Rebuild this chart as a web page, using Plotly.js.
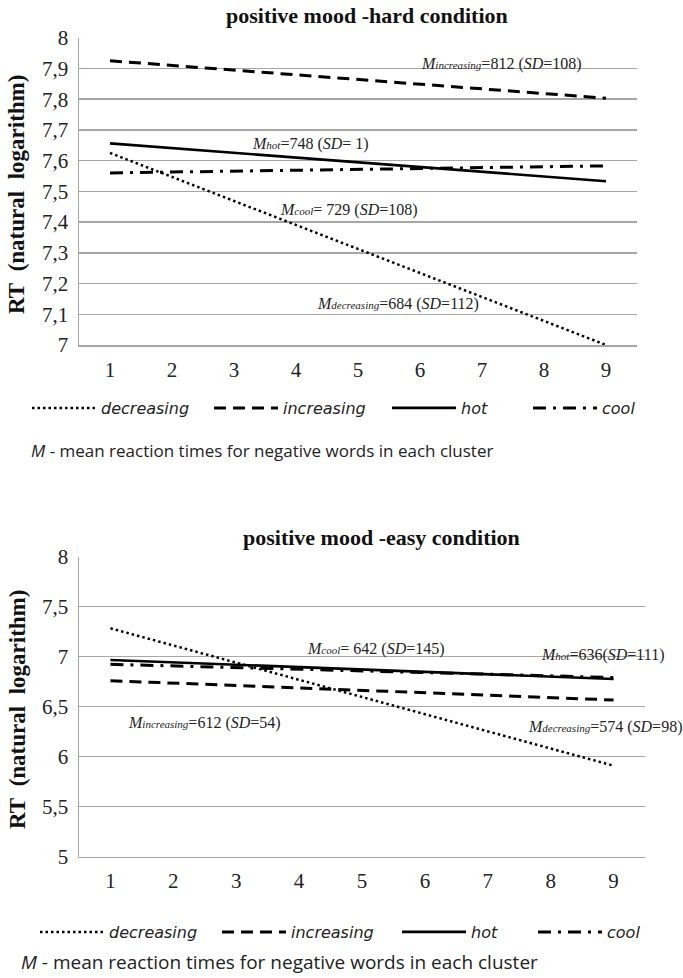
<!DOCTYPE html>
<html>
<head>
<meta charset="utf-8">
<script src="https://cdn.plot.ly/plotly-3.0.1.min.js"></script>
<style>html,body{margin:0;padding:0;background:#fff;}#chart{width:683px;height:978px;}</style>
</head>
<body>
<div id="chart"></div>
<script>
// ---- data ----
var clusterX = [1, 9];
var seriesNames = ["decreasing", "increasing", "hot", "cool"];
// positive mood - hard condition (trend line ends, ln RT)
var hardDecreasing = [7.625, 7.0];
var hardIncreasing = [7.925, 7.803];
var hardHot = [7.656, 7.533];
var hardCool = [7.56, 7.583];
// positive mood - easy condition
var easyDecreasing = [7.284, 5.91];
var easyIncreasing = [6.76, 6.567];
var easyHot = [6.967, 6.777];
var easyCool = [6.924, 6.792];
var xTicks = [1, 2, 3, 4, 5, 6, 7, 8, 9];
var hardYTicks = [7, 7.1, 7.2, 7.3, 7.4, 7.5, 7.6, 7.7, 7.8, 7.9, 8];
var easyYTicks = [5, 5.5, 6, 6.5, 7, 7.5, 8];
// mean labels
var hardLabels = [
  {name: "increasing", m: 812, sd: "108", x: 7.31, y: 7.914, sep: "=", sp: " "},
  {name: "hot", m: 748, sd: " 1", x: 4.23, y: 7.654, sep: "=", sp: " "},
  {name: "cool", m: 729, sd: "108", x: 4.85, y: 7.439, sep: "= ", sp: " "},
  {name: "decreasing", m: 684, sd: "112", x: 5.65, y: 7.133, sep: "=", sp: " "}
];
var easyLabels = [
  {name: "cool", m: 642, sd: "145", x: 5.22, y: 7.077, sep: "= ", sp: " "},
  {name: "hot", m: 636, sd: "111", x: 8.82, y: 7.017, sep: "=", sp: ""},
  {name: "increasing", m: 612, sd: "54", x: 2.50, y: 6.337, sep: "=", sp: " "},
  {name: "decreasing", m: 574, sd: "98", x: 8.86, y: 6.297, sep: "=", sp: " "}
];

// ---- styles ----
var W = 683, H = 978;
var serif = "Liberation Serif";
var sans = "Open Sans";
var lineStyles = {
  decreasing: {color: "#000", width: 2.5, dash: "2.5px,3px"},
  increasing: {color: "#000", width: 3, dash: "12px,7px"},
  hot: {color: "#000", width: 2.6, dash: "solid"},
  cool: {color: "#000", width: 3, dash: "13px,7px,3px,7px"}
};
function px2x(p){ return p / W; }
function py2y(p){ return 1 - p / H; }

// legend sample start positions (px) and rows
var hardLegendX = [32, 214, 392, 533];
var easyLegendX = [40, 222, 402, 538];
var hardLegendY = 408, easyLegendY = 932;

var hardData = [hardDecreasing, hardIncreasing, hardHot, hardCool];
var easyData = [easyDecreasing, easyIncreasing, easyHot, easyCool];
var traces = [];
var layoutLegends = {};
function legendCfg(x, y){
  return {orientation: "h", x: px2x(x - 5), y: py2y(y), xanchor: "left", yanchor: "middle", itemwidth: 64,
    font: {family: "DejaVu Sans", size: 16, color: "#222", style: "italic"}, bgcolor: "rgba(0,0,0,0)",
    borderwidth: 0, itemclick: false, itemdoubleclick: false};
}
seriesNames.forEach(function(n, i){
  var lg = "legend" + (i === 0 ? "" : (i + 1));
  layoutLegends[lg] = legendCfg(hardLegendX[i], hardLegendY);
  traces.push({x: clusterX, y: hardData[i], name: n, mode: "lines", line: lineStyles[n],
    xaxis: "x", yaxis: "y", legend: lg, hoverinfo: "skip"});
});
seriesNames.forEach(function(n, i){
  var lg = "legend" + (i + 5);
  layoutLegends[lg] = legendCfg(easyLegendX[i], easyLegendY);
  traces.push({x: clusterX, y: easyData[i], name: n, mode: "lines", line: lineStyles[n],
    xaxis: "x2", yaxis: "y2", legend: lg, hoverinfo: "skip"});
});

function xAxis(domain, anchor){
  return {domain: domain, anchor: anchor, range: [0.5, 9.5], tickvals: xTicks,
    showgrid: false, zeroline: false, showline: true, linecolor: "#a6a6a6", linewidth: 1.5,
    ticks: "outside", ticklen: 5, tickcolor: "rgba(0,0,0,0)",
    tickfont: {family: serif, size: 21, color: "#222"}, fixedrange: true};
}
function yAxis(domain, anchor, range, vals){
  return {domain: domain, anchor: anchor, range: range, tickvals: vals,
    showgrid: true, gridcolor: "#a6a6a6", gridwidth: 1.5, zeroline: false,
    showline: true, linecolor: "#a6a6a6", linewidth: 1.5,
    ticks: "outside", ticklen: 5, tickcolor: "rgba(0,0,0,0)",
    tickfont: {family: serif, size: 21, color: "#222"}, fixedrange: true};
}

function labelText(l){
  return "<i>M<span style='font-size:11px'>" + l.name + "</span></i>" + l.sep + l.m +
    l.sp + "(<i>SD</i>=" + l.sd + ")";
}
var annotations = [];
hardLabels.forEach(function(l){
  annotations.push({xref: "x", yref: "y", x: l.x, y: l.y, text: labelText(l), showarrow: false,
    font: {family: serif, size: 16, color: "#222"}, xanchor: "center", yanchor: "middle"});
});
easyLabels.forEach(function(l){
  annotations.push({xref: "x2", yref: "y2", x: l.x, y: l.y, text: labelText(l), showarrow: false,
    font: {family: serif, size: 16, color: "#222"}, xanchor: "center", yanchor: "middle"});
});
// panel titles
annotations.push({xref: "paper", yref: "paper", x: px2x(367), y: py2y(15), text: "<b>positive mood -hard condition</b>",
  showarrow: false, font: {family: serif, size: 22, color: "#111"}, xanchor: "center", yanchor: "middle"});
annotations.push({xref: "paper", yref: "paper", x: px2x(381), y: py2y(537), text: "<b>positive mood -easy condition</b>",
  showarrow: false, font: {family: serif, size: 22, color: "#111"}, xanchor: "center", yanchor: "middle"});
// y axis titles
var yTitle = "<b>RT\u00a0 (natural\u00a0 logarithm)</b>";
annotations.push({xref: "paper", yref: "paper", x: px2x(17), y: py2y(195), text: yTitle, textangle: -90,
  showarrow: false, font: {family: serif, size: 23, color: "#111"}, xanchor: "center", yanchor: "middle"});
annotations.push({xref: "paper", yref: "paper", x: px2x(17), y: py2y(710), text: yTitle, textangle: -90,
  showarrow: false, font: {family: serif, size: 23, color: "#111"}, xanchor: "center", yanchor: "middle"});
// notes
var note = "<i>M</i> - mean reaction times for negative words in each cluster";
annotations.push({xref: "paper", yref: "paper", x: px2x(29), y: py2y(450), text: note,
  showarrow: false, font: {family: sans, size: 17, color: "#222"}, xanchor: "left", yanchor: "middle"});
annotations.push({xref: "paper", yref: "paper", x: px2x(19), y: py2y(962), text: note,
  showarrow: false, font: {family: sans, size: 19, color: "#222"}, xanchor: "left", yanchor: "middle"});

var layout = {
  width: W, height: H, margin: {l: 0, r: 0, t: 0, b: 0},
  paper_bgcolor: "#fff", plot_bgcolor: "#fff",
  separators: ",.",
  showlegend: true,
  xaxis: xAxis([px2x(79), px2x(637)], "y"),
  yaxis: yAxis([py2y(345), py2y(37.7)], "x", [7, 8], hardYTicks),
  xaxis2: xAxis([px2x(79), px2x(645)], "y2"),
  yaxis2: yAxis([py2y(856.7), py2y(556.7)], "x2", [5, 8], easyYTicks),
  annotations: annotations
};
for (var k in layoutLegends) layout[k] = layoutLegends[k];

Plotly.newPlot("chart", traces, layout, {staticPlot: true, displayModeBar: false});
</script>
</body>
</html>
